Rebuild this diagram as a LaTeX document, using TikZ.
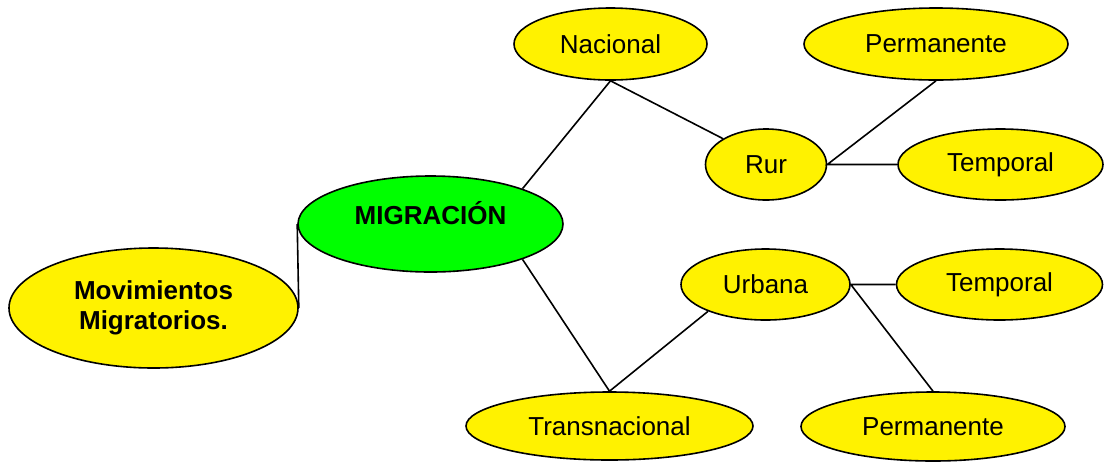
\documentclass[tikz,border=0pt]{standalone}
\usepackage{fontspec}
\setmainfont{Liberation Sans}
\usetikzlibrary{shapes.geometric}

\begin{document}
\begin{tikzpicture}[x=0.5pt, y=-0.5pt, line width=0.8pt,
    bubble/.style={ellipse, draw, fill=yellow, inner sep=0pt, font=\fontsize{13}{15}\selectfont},
    smallbubble/.style={bubble, minimum height=35.5pt}]
    \useasboundingbox (0,0) rectangle (1104,462);
    % central idea and title
    \node[bubble, minimum width=144.5pt, minimum height=60pt, align=center,
        font=\fontsize{13}{15}\selectfont\bfseries] (movimientos) at (153.5,308) {Movimientos\\Migratorios.};
    \node[bubble, fill=green, minimum width=132.5pt, minimum height=48pt, text height=8pt, text depth=8pt,
        font=\fontsize{13}{15}\selectfont\bfseries] (migracion) at (430.5,224) {MIGRACIÓN};
    % branches
    \node[smallbubble, minimum width=96.5pt, minimum height=36pt] (nacional) at (610.5,44) {Nacional};
    \node[smallbubble, minimum width=143.5pt, minimum height=34pt] (transnacional) at (609.5,426) {Transnacional};
    \node[smallbubble, minimum width=60.5pt] (rur) at (766,164.5) {Rur};
    \node[smallbubble, minimum width=84.5pt] (urbana) at (765.5,284.5) {Urbana};
    \node[smallbubble, minimum width=132pt, minimum height=36pt] (permtop) at (936,44) {Permanente};
    \node[smallbubble, minimum width=102.5pt] (temptop) at (1000.5,164.5) {Temporal};
    \node[smallbubble, minimum width=103pt] (tempbot) at (999.5,284.5) {Temporal};
    \node[smallbubble, minimum width=132pt, minimum height=34.5pt] (permbot) at (933,426.5) {Permanente};
    \draw (migracion.west) -- (movimientos.east);
    \draw (migracion.21) -- (nacional.south) -- (rur.149);
    \draw (migracion.-21) -- (transnacional.north) -- (urbana.205);
    \draw (permtop.south) -- (rur.east) -- (temptop.west);
    \draw (tempbot.west) -- (urbana.east) -- (permbot.north);
\end{tikzpicture}
\end{document}
